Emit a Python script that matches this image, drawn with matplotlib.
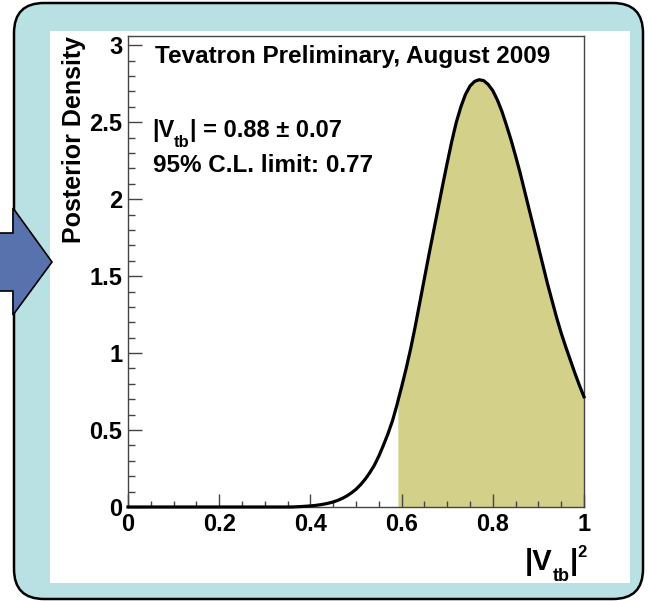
import matplotlib
matplotlib.use("Agg")
import matplotlib.pyplot as plt
import numpy as np
from matplotlib.patches import FancyBboxPatch, Rectangle, Polygon

# Posterior density of |V_tb|^2
vtb2 = [0.00, 0.10, 0.20, 0.30, 0.36, 0.38, 0.40, 0.41, 0.42, 0.43, 0.44,
        0.45, 0.46, 0.47, 0.48, 0.49, 0.50, 0.51, 0.52, 0.53, 0.54, 0.55,
        0.56, 0.57, 0.58, 0.59, 0.5929, 0.60, 0.61, 0.62, 0.63, 0.64, 0.65,
        0.66, 0.67, 0.68, 0.69, 0.70, 0.71, 0.72, 0.73, 0.74, 0.75, 0.76,
        0.77, 0.78, 0.79, 0.80, 0.81, 0.82, 0.83, 0.84, 0.85, 0.86, 0.87,
        0.88, 0.89, 0.90, 0.91, 0.92, 0.93, 0.94, 0.95, 0.96, 0.97, 0.98,
        0.99, 1.00]
density = [0.0, 0.0, 0.0, 0.0, 0.0, 0.003, 0.007, 0.010, 0.014, 0.019, 0.025,
           0.033, 0.043, 0.056, 0.072, 0.092, 0.115, 0.145, 0.18, 0.222, 0.27, 0.33,
           0.40, 0.475, 0.56, 0.665, 0.70, 0.78, 0.90, 1.03, 1.175, 1.33, 1.485,
           1.64, 1.79, 1.94, 2.09, 2.235, 2.375, 2.50, 2.60, 2.68, 2.735, 2.765,
           2.776, 2.77, 2.745, 2.705, 2.645, 2.57, 2.48, 2.385, 2.28, 2.17, 2.05,
           1.93, 1.81, 1.69, 1.57, 1.45, 1.34, 1.23, 1.13, 1.04, 0.955, 0.87,
           0.79, 0.716]

vtb_value, vtb_error = 0.88, 0.07
cl_limit = 0.77

x_ticks = [0.0, 0.2, 0.4, 0.6, 0.8, 1.0]
x_tick_labels = ["0", "0.2", "0.4", "0.6", "0.8", "1"]
y_ticks = [0.0, 0.5, 1.0, 1.5, 2.0, 2.5, 3.0]
y_tick_labels = ["0", "0.5", "1", "1.5", "2", "2.5", "3"]

plt.rcParams["font.family"] = ["Liberation Sans", "DejaVu Sans"]
plt.rcParams["font.weight"] = "bold"

W, H = 648, 601
fig = plt.figure(figsize=(W / 100, H / 100), dpi=100)
fig.patch.set_facecolor("white")

# Slide frame drawn in pixel coordinates
bg = fig.add_axes([0, 0, 1, 1])
bg.set_xlim(0, W)
bg.set_ylim(H, 0)
bg.axis("off")
bg.add_patch(FancyBboxPatch((14, 3), 629, 596,
                            boxstyle="round,pad=0,rounding_size=30",
                            facecolor="#b9e0e3", edgecolor="black", lw=1.8))
bg.add_patch(Rectangle((50, 31), 580, 552, facecolor="white", edgecolor="none"))
bg.add_patch(Polygon([(-5, 233), (13, 233), (13, 208), (52, 262),
                      (13, 315), (13, 291), (-5, 291)], closed=True,
                     facecolor="#5872ae", edgecolor="black", lw=1.2))

# Main plot area
ax = fig.add_axes([128 / W, 1 - 507 / H, (584 - 128) / W, (507 - 36) / H])
ax.set_xlim(0, 1)
ax.set_ylim(0, 3.06)

x = np.array(vtb2)
y = np.array(density)
mask = x >= cl_limit ** 2 - 1e-9
ax.fill_between(x[mask], y[mask], 0, facecolor="#d3d08a", edgecolor="none", zorder=1)
ax.plot(x, y, color="black", lw=2.3, zorder=3, clip_on=False,
        solid_joinstyle="round")

for s in ax.spines.values():
    s.set_linewidth(1.0)
    s.set_color("#444444")
    s.set_zorder(2)

ax.set_xticks(x_ticks)
ax.set_xticklabels(x_tick_labels)
ax.set_yticks(y_ticks)
ax.set_yticklabels(y_tick_labels)
ax.set_xticks(np.arange(0, 1.0001, 0.05), minor=True)
ax.set_yticks(np.arange(0, 3.0501, 0.1), minor=True)
ax.tick_params(axis="both", which="both", direction="in", colors="#444444",
               labelcolor="black", labelsize=17, width=1.0)
ax.tick_params(axis="x", which="major", length=9.5, pad=4)
ax.tick_params(axis="x", which="minor", length=4.5)
ax.tick_params(axis="y", which="major", length=10, pad=4)
ax.tick_params(axis="y", which="minor", length=5)
for lab in ax.get_xticklabels() + ax.get_yticklabels():
    lab.set_fontweight("bold")

renderer = fig.canvas.get_renderer()


def compose(x_px, base_px, pieces, align="left"):
    """Lay out text runs side by side; each run is (text, size, drop_px)."""
    runs = []
    for s, size, drop in pieces:
        t = fig.text(0, 0, s, fontsize=size, fontweight="bold",
                     ha="left", va="baseline")
        runs.append((t, t.get_window_extent(renderer).width, drop))
    total = sum(w for _, w, _ in runs)
    cx = x_px - total if align == "right" else x_px
    for t, w, drop in runs:
        t.set_position((cx / W, 1 - (base_px + drop) / H))
        cx += w


fig.text(155 / W, 1 - 63 / H, "Tevatron Preliminary, August 2009",
         fontsize=17.5, fontweight="bold", ha="left", va="baseline")
compose(152, 137, [("|V", 17, 0), ("tb", 12, 10),
                   (f"| = {vtb_value:.2f} \u00b1 {vtb_error:.2f}", 17, 0)])
fig.text(153 / W, 1 - 172 / H, f"95% C.L. limit: {cl_limit:.2f}",
         fontsize=17.5, fontweight="bold", ha="left", va="baseline")

fig.text(74 / W, 1 - 36 / H, "Posterior Density", rotation=90, fontsize=18,
         fontweight="bold", ha="center", va="top")
compose(587, 570, [("|V", 21, 0), ("tb", 13, 11), ("|", 21, 0), ("2", 12, -13)],
        align="right")

fig.savefig("out.png", dpi=100, facecolor="white")
